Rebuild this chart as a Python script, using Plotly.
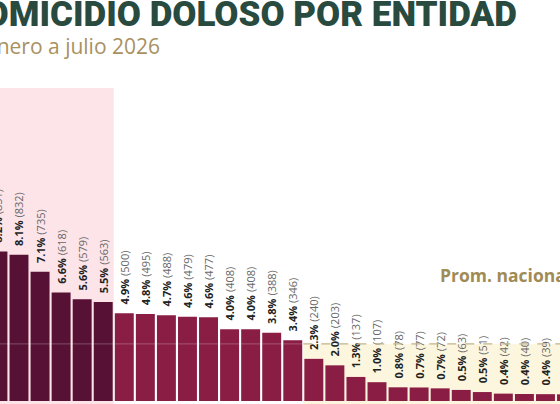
import plotly.graph_objects as go

# participacion (%) y victimas por entidad, enero a julio 2026 (ordenado de mayor a menor)
porcentajes = ["8.2%", "8.1%", "7.1%", "6.6%", "5.6%", "5.5%", "4.9%", "4.8%", "4.7%", "4.6%",
               "4.6%", "4.0%", "4.0%", "3.8%", "3.4%", "2.3%", "2.0%", "1.3%", "1.0%", "0.8%",
               "0.7%", "0.7%", "0.5%", "0.5%", "0.4%", "0.4%", "0.4%", "0.4%"]
victimas = [851, 832, 735, 618, 579, 563, 500, 495, 488, 479,
            477, 408, 408, 388, 346, 240, 203, 137, 107, 78,
            77, 72, 63, 51, 42, 40, 39, 38]
prom_nacional = 325
n_top = 6  # entidades resaltadas en rosa

titulo = "HOMICIDIO DOLOSO POR ENTIDAD"
subtitulo = "Enero a julio 2026"
texto_prom = "Prom. nacional: 3.1%"

x = list(range(len(victimas)))
colores = ["#571134" if i < n_top else "#8a1d43" for i in x]
etiquetas = ["\u00a0\u00a0<b>%s</b> <span style='color:#666666'>(%d)</span>" % (p, v)
             for p, v in zip(porcentajes, victimas)]

fig = go.Figure()

fig.add_trace(go.Bar(
    x=x,
    y=victimas,
    marker=dict(color=colores, line=dict(width=0)),
    text=etiquetas,
    textposition="outside",
    textangle=-90,
    constraintext="none",
    textfont=dict(family="Open Sans", size=11, color="#222222"),
    cliponaxis=True,
    hoverinfo="skip",
))

# fondo rosa detras de las primeras entidades
fig.add_shape(type="rect", layer="below", xref="x", yref="y",
              x0=-3, x1=n_top - 0.5, y0=-50, y1=1781,
              fillcolor="#fde4e9", line=dict(width=0))

# fondo crema para entidades por debajo del promedio
debajo = [i for i in x if victimas[i] < prom_nacional]
fig.add_shape(type="rect", layer="below", xref="x", yref="y",
              x0=debajo[0] - 0.5, x1=len(victimas) + 3, y0=-50, y1=prom_nacional,
              fillcolor="#fdf6df", line=dict(width=0))

# linea de promedio
fig.add_shape(type="line", layer="above", xref="x", yref="y",
              x0=-3, x1=len(victimas) + 3, y0=prom_nacional, y1=prom_nacional,
              line=dict(color="rgba(255,255,255,0.25)", width=1))
fig.add_shape(type="line", layer="above", xref="x", yref="y",
              x0=debajo[0] - 0.5, x1=len(victimas) + 3, y0=prom_nacional, y1=prom_nacional,
              line=dict(color="#c2b488", width=1.2, dash="dash"))

fig.add_annotation(text=texto_prom, xref="paper", yref="paper", x=0.782, y=0.285,
                   xanchor="left", yanchor="bottom", showarrow=False,
                   font=dict(family="Open Sans", size=17.5, color="#a08b55", weight="bold"))

fig.add_annotation(text=titulo, xref="paper", yref="paper", x=0.926, y=1.02,
                   xanchor="right", yanchor="top", showarrow=False,
                   font=dict(family="Roboto", size=35, color="#294a3e", weight=900))

fig.add_annotation(text=subtitulo, xref="paper", yref="paper", x=0.29, y=0.925,
                   xanchor="right", yanchor="top", showarrow=False,
                   font=dict(family="Open Sans", size=21, color="#a8915f"))

fig.update_layout(
    width=560,
    height=404,
    margin=dict(l=0, r=0, t=0, b=0),
    plot_bgcolor="white",
    paper_bgcolor="white",
    bargap=0.1,
    showlegend=False,
    xaxis=dict(range=[0.098, 26.69], visible=False),
    yaxis=dict(range=[-17, 2282], visible=False),
)

fig.write_html("out.html", config={"displayModeBar": False},
               post_script="document.body.style.margin='0';")
